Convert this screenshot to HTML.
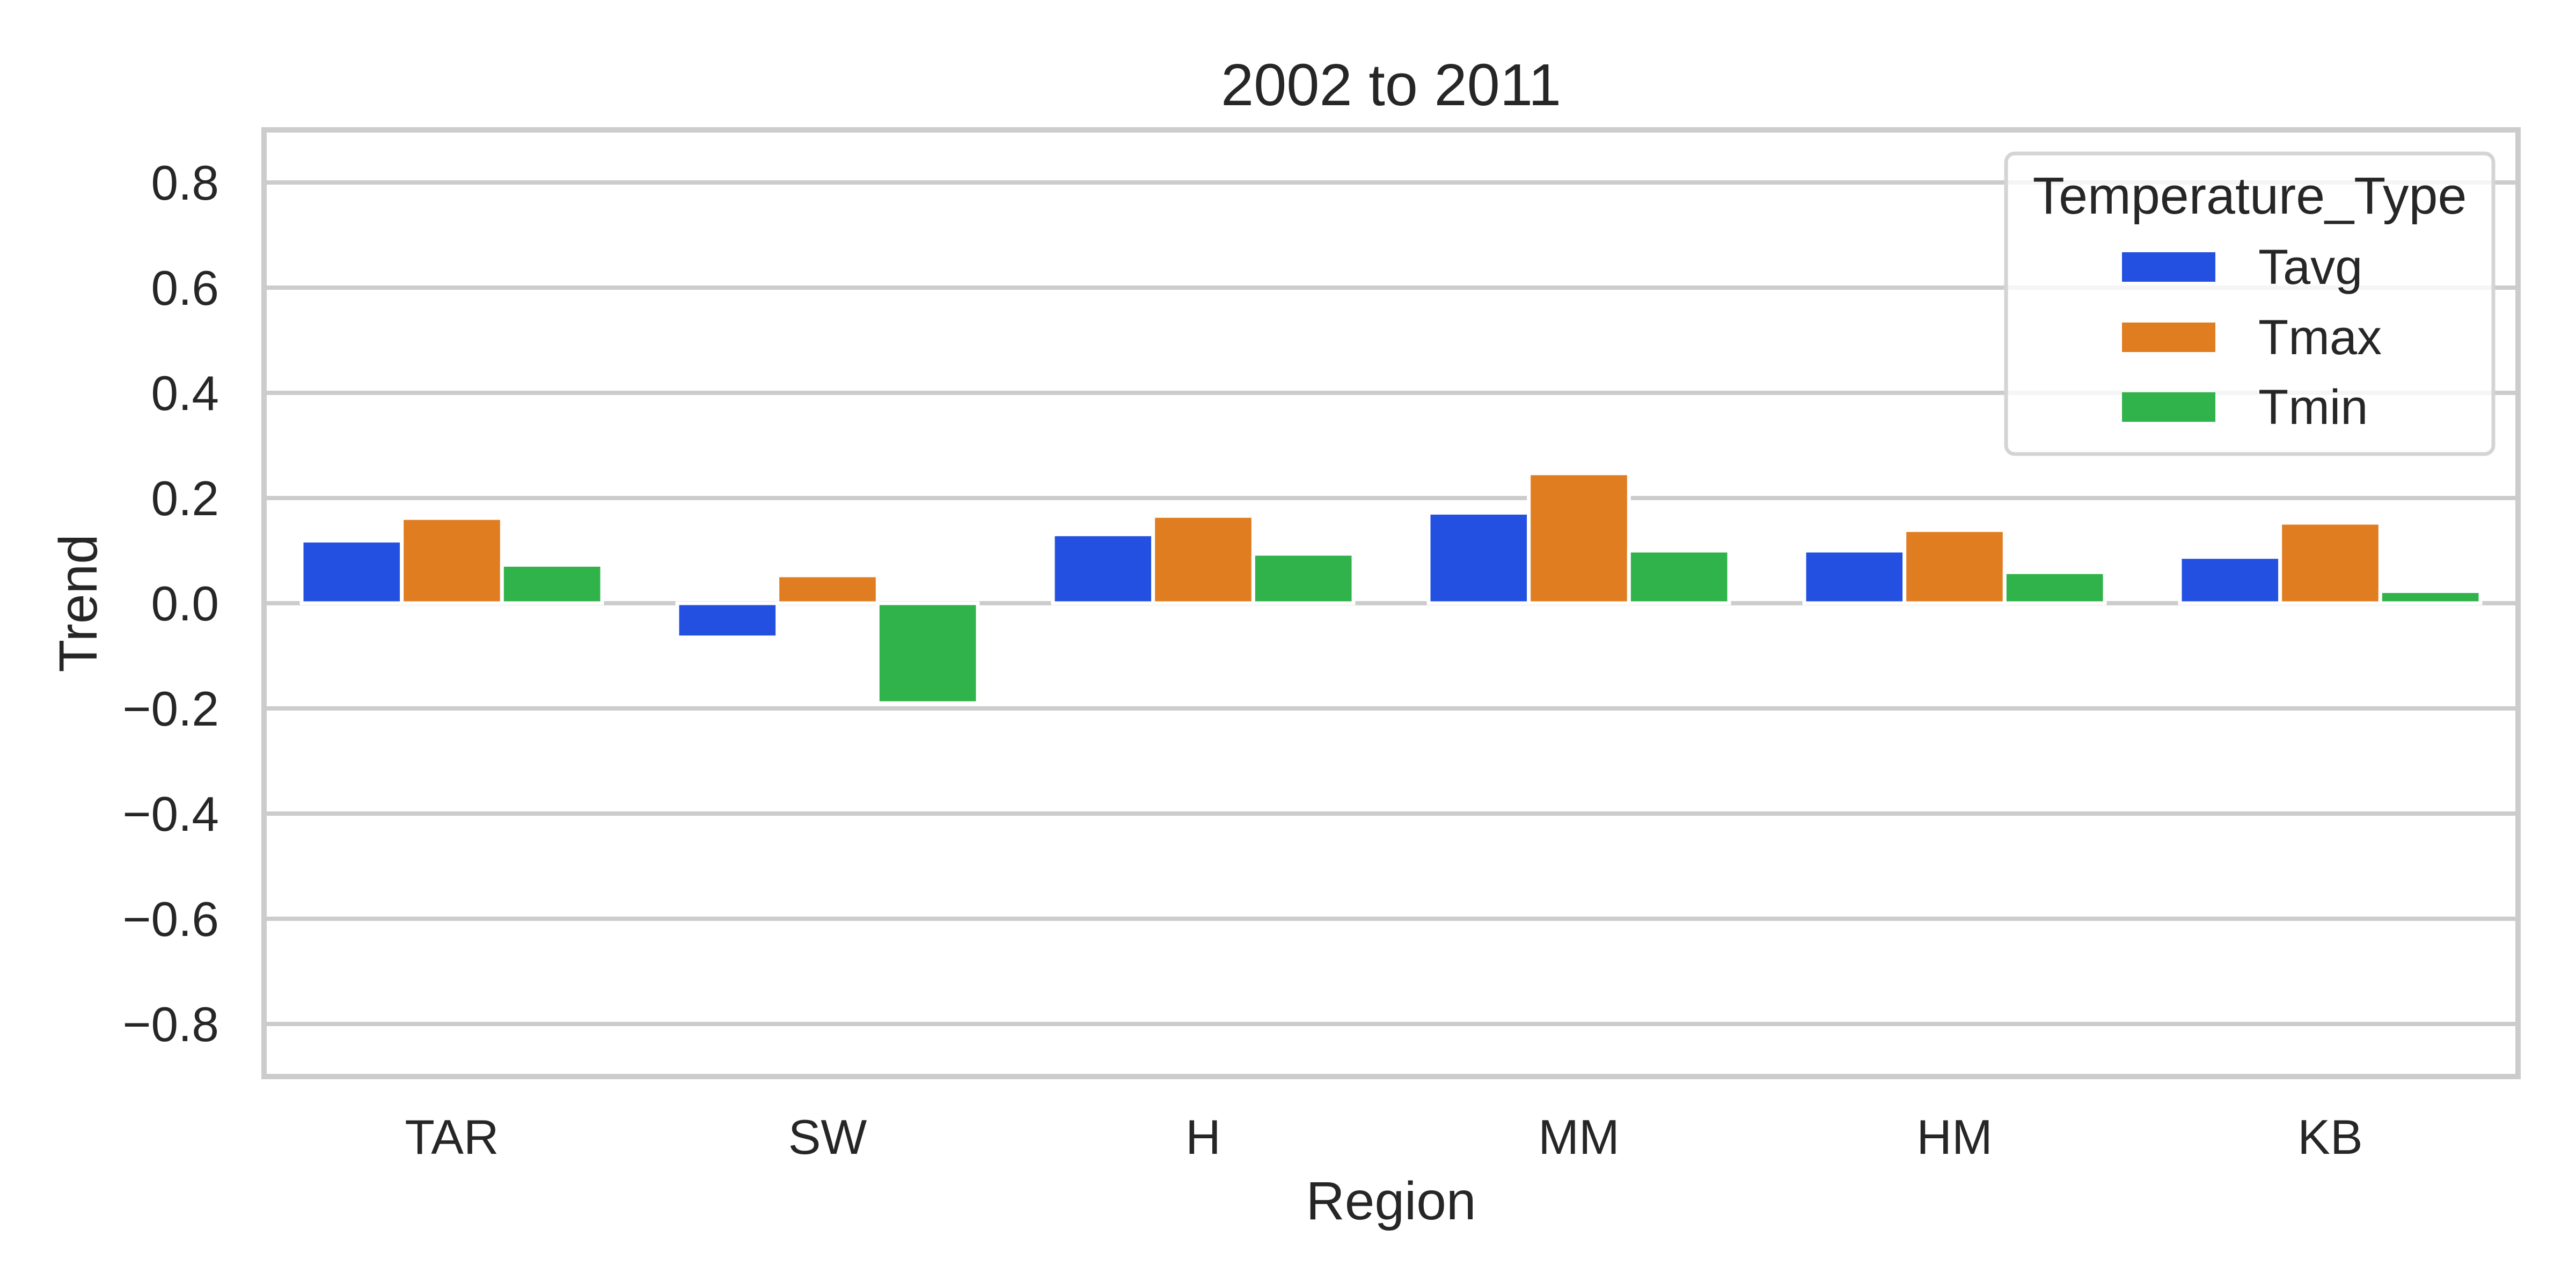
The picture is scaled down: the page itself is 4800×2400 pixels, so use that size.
<!DOCTYPE html>
<html><head><meta charset="utf-8"><style>
html,body{margin:0;padding:0;background:#fff;}
svg{display:block;font-family:"Liberation Sans",Arial,sans-serif;}
</style></head><body>
<svg id="chart" width="4800" height="2400" viewBox="0 0 4800 2400"></svg>
<script>
const categories = ["TAR","SW","H","MM","HM","KB"];
const seriesNames = ["Tavg","Tmax","Tmin"];
const tavg = [0.119,-0.065,0.131,0.172,0.100,0.088];
const tmax = [0.162,0.053,0.166,0.247,0.139,0.153];
const tmin = [0.073,-0.190,0.094,0.100,0.059,0.023];
const yTicks = [-0.8,-0.6,-0.4,-0.2,0.0,0.2,0.4,0.6,0.8];
const yTickLabels = ["\u22120.8","\u22120.6","\u22120.4","\u22120.2","0.0","0.2","0.4","0.6","0.8"];

const colors = ["#2350e0","#e07d21","#30b34a"];
const series = [tavg,tmax,tmin];
const L=492,R=4692,T=242,B=2006,yMin=-0.9,yMax=0.9;
const NS="http://www.w3.org/2000/svg";
const svg=document.getElementById('chart');
function y(v){return T+(yMax-v)/(yMax-yMin)*(B-T);}
function xc(i){return L+(i+0.5)*(R-L)/categories.length;}
const catW=(R-L)/categories.length, barW=catW*0.8/3;
function mk(tag,attrs,parent){const e=document.createElementNS(NS,tag);for(const k in attrs)e.setAttribute(k,attrs[k]);(parent||svg).appendChild(e);return e;}

const grid=mk('g',{});


yTicks.forEach((v,i)=>{
  const l=mk('line',{x1:L,x2:R,y1:y(v),y2:y(v),stroke:'#cccccc','stroke-width':8},grid);
  
  
  const t=mk('text',{x:408,y:y(v)+32,'text-anchor':'end','font-size':91,fill:'#262626'});
  t.textContent=yTickLabels[i];
  
  
});
series.forEach((vals,s)=>{
  vals.forEach((v,i)=>{
    const x0=xc(i)-catW*0.4+s*barW;
    const y0=Math.min(y(v),y(0)), h=Math.abs(y(v)-y(0));
    const r=mk('rect',{x:x0,y:y0,width:barW,height:h,fill:colors[s],stroke:'#ffffff','stroke-width':7});
    
    
  });
});
categories.forEach((c,i)=>{
  const t=mk('text',{x:xc(i),y:2150,'text-anchor':'middle','font-size':91,fill:'#262626'});
  t.textContent=c;
  
  
});
const fr=mk('rect',{x:L,y:T,width:R-L,height:B-T,fill:'none',stroke:'#cccccc','stroke-width':10});


const lg=mk('g',{});


mk('rect',{x:3738,y:286,width:908,height:560,rx:16,fill:'rgba(255,255,255,0.8)',stroke:'#d4d4d4','stroke-width':7},lg);
const lt=mk('text',{x:4192,y:398,'text-anchor':'middle','font-size':97,fill:'#262626'},lg);
lt.textContent='Temperature_Type';


const ly=[470,601,731];
seriesNames.forEach((n,s)=>{
  const p=mk('rect',{x:3954,y:ly[s],width:174,height:55,fill:colors[s]},lg);
  
  
  const t=mk('text',{x:4208,y:ly[s]+59,'font-size':92,fill:'#262626'},lg);
  t.textContent=n;
  
  
});
const ti=mk('text',{x:(L+R)/2,y:196,'text-anchor':'middle','font-size':110,fill:'#262626'});
ti.textContent='2002 to 2011';


const xl=mk('text',{x:(L+R)/2,y:2272,'text-anchor':'middle','font-size':100,fill:'#262626'});
xl.textContent='Region';


const yl=mk('text',{x:0,y:0,'text-anchor':'middle','font-size':100,fill:'#262626',transform:'translate(180,'+((T+B)/2)+') rotate(-90)'});
yl.textContent='Trend';


</script>
</body></html>
